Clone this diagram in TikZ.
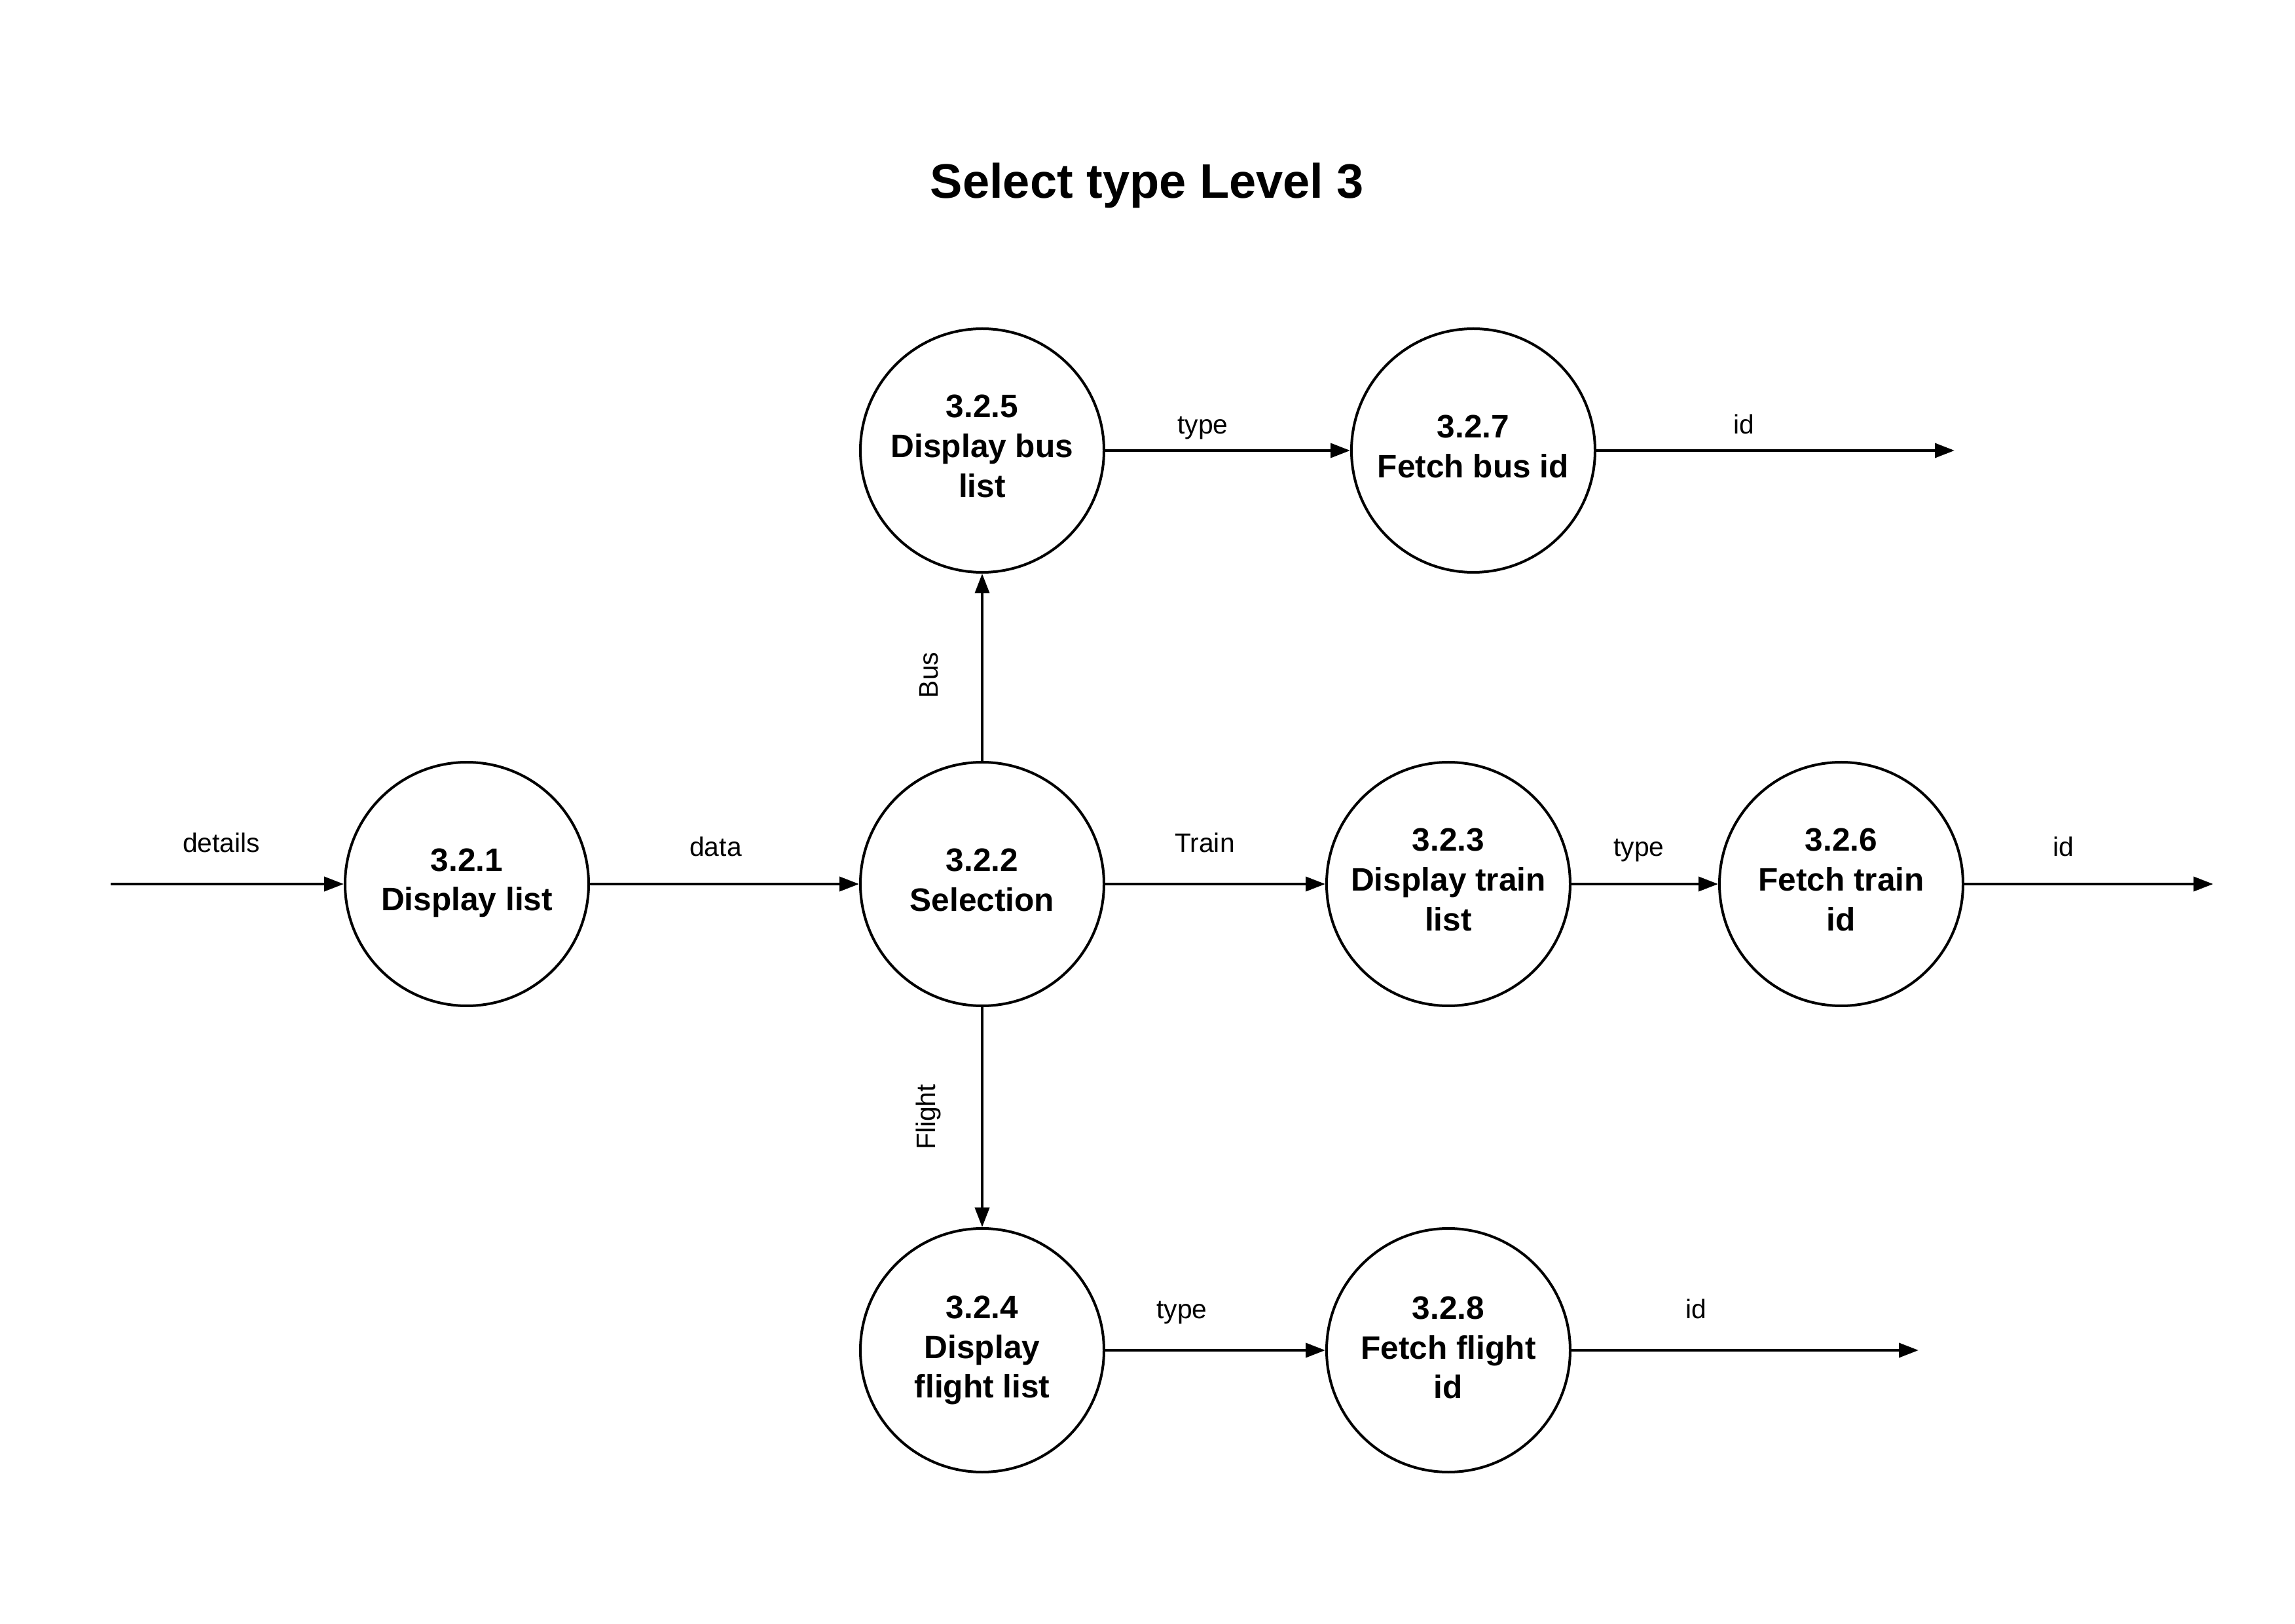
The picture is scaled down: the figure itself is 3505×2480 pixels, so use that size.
\documentclass[tikz,border=0pt]{standalone}
\usepackage{fontspec}
\setmainfont{Liberation Sans}
\usetikzlibrary{arrows.meta}
\begin{document}
\begin{tikzpicture}[x=0.25pt,y=-0.25pt,
  proc/.style={circle,draw,line width=1pt,minimum size=93pt,inner sep=0pt},
  proctext/.style={align=center,inner sep=0pt,yshift=1.6pt,
    font=\bfseries\fontsize{12.4}{15.2}\selectfont},
  flow/.style={line width=1pt,-{Triangle[length=7.5pt,width=5.5pt]}},
  lbl/.style={anchor=base,inner sep=0pt,font=\fontsize{10.2}{12}\selectfont},
  vlbl/.style={anchor=center,inner sep=0pt,rotate=90,font=\fontsize{10.2}{12}\selectfont}]
\useasboundingbox (0,0) rectangle (3505,2480);
\node[anchor=base,inner sep=0pt,font=\bfseries\fontsize{18.5}{22}\selectfont] (title) at (1752,303) {Select type Level 3};

\node[proc,label={[proctext,yshift=-1.2pt]center:{3.2.1\\Display list}}] (p321) at (713,1350) {};
\node[proc,label={[proctext]center:{3.2.2\\Selection}}] (p322) at (1500,1350) {};
\node[proc,label={[proctext]center:{3.2.3\\Display train\\list}}] (p323) at (2212,1350) {};
\node[proc,label={[proctext]center:{3.2.6\\Fetch train\\id}}] (p326) at (2812,1350) {};
\node[proc,label={[proctext]center:{3.2.5\\Display bus\\list}}] (p325) at (1500,688) {};
\node[proc,label={[proctext]center:{3.2.7\\Fetch bus id}}] (p327) at (2250,688) {};
\node[proc,label={[proctext,yshift=-1.6pt]center:{3.2.4\\Display\\flight list}}] (p324) at (1500,2062) {};
\node[proc,label={[proctext,yshift=-0.6pt]center:{3.2.8\\Fetch flight\\id}}] (p328) at (2212,2062) {};

\coordinate (src) at (169,1350);
\coordinate (outT) at (3380,1350);
\coordinate (outB) at (2985,688);
\coordinate (outF) at (2930,2062);

\draw[flow] (src) -- (p321);
\draw[flow] (p321) -- (p322);
\draw[flow] (p322) -- (p323);
\draw[flow] (p323) -- (p326);
\draw[flow] (p326) -- (outT);
\draw[flow] (p322) -- (p325);
\draw[flow] (p325) -- (p327);
\draw[flow] (p327) -- (outB);
\draw[flow] (p322) -- (p324);
\draw[flow] (p324) -- (p328);
\draw[flow] (p328) -- (outF);

\node[lbl] (ldetails) at (338,1302) {details};
\node[lbl] (ldata) at (1093,1308) {data};
\node[lbl] (ltrain) at (1840,1302) {Train};
\node[lbl] (ltype1) at (2503,1308) {type};
\node[lbl] (lid1) at (3151,1308) {id};
\node[lbl] (ltype2) at (1837,663) {type};
\node[lbl] (lid2) at (2663,663) {id};
\node[lbl] (ltype3) at (1805,2013) {type};
\node[lbl] (lid3) at (2590,2013) {id};
\node[vlbl] (lbus) at (1419,1031) {Bus};
\node[vlbl] (lflight) at (1418,1706) {Flight};
\end{tikzpicture}
\end{document}
